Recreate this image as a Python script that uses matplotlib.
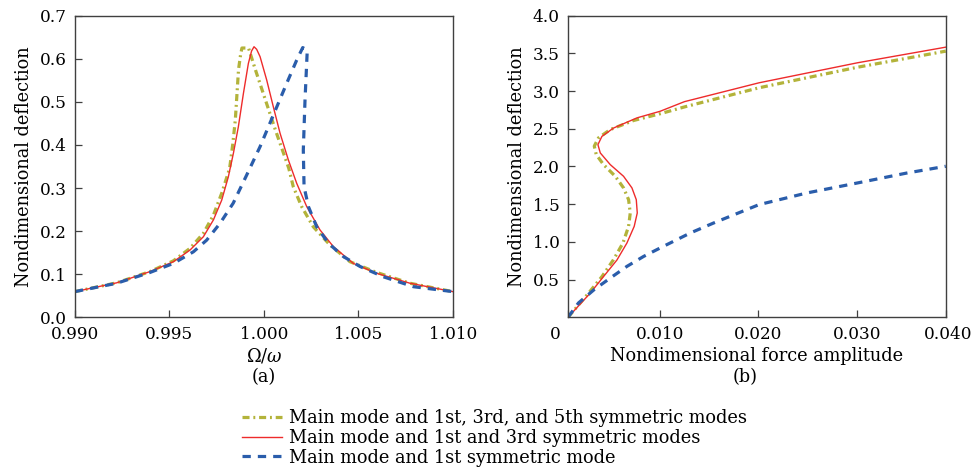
import matplotlib
matplotlib.use("Agg")
import matplotlib.pyplot as plt
import matplotlib.transforms as mtransforms

plt.rcParams['font.family'] = ['DejaVu Serif']
plt.rcParams['mathtext.fontset'] = 'dejavuserif'
plt.rcParams['font.size'] = 12

# (a) frequency response, Omega/omega vs deflection
freq_135 = [0.990, 0.99221, 0.99397, 0.99521, 0.99609, 0.9968, 0.99733, 0.99777,
            0.99819, 0.99835, 0.99849, 0.99866, 0.99877, 0.99884, 0.99919, 0.99955,
            1.00008, 1.00061, 1.00132, 1.00156, 1.002, 1.00262, 1.0035, 1.00456,
            1.00598, 1.00774, 1.010]
defl_135 = [0.0596, 0.080, 0.106, 0.131, 0.160, 0.195, 0.237, 0.288,
            0.346, 0.400, 0.458, 0.575, 0.610, 0.625, 0.625, 0.575,
            0.505, 0.435, 0.346, 0.303, 0.257, 0.210, 0.168, 0.129,
            0.104, 0.079, 0.0596]

freq_13 = [0.990, 0.99221, 0.99397, 0.99521, 0.99609, 0.9968, 0.99733, 0.99777,
           0.99812, 0.99839, 0.99865, 0.99892, 0.99918, 0.99935, 0.99948, 0.99962,
           0.9998, 1.00015, 1.0005, 1.00086, 1.0013, 1.00174, 1.00227, 1.00297,
           1.00368, 1.00474, 1.00598, 1.00774, 1.010]
defl_13 = [0.0596, 0.080, 0.106, 0.129, 0.156, 0.187, 0.226, 0.272,
           0.326, 0.381, 0.442, 0.520, 0.589, 0.618, 0.628, 0.622,
           0.605, 0.551, 0.489, 0.427, 0.365, 0.311, 0.257, 0.203,
           0.164, 0.125, 0.102, 0.079, 0.0596]

freq_1 = [0.990, 0.99221, 0.99397, 0.99521, 0.99627, 0.99697, 0.99768, 0.99838,
          0.99909, 0.9998, 1.0005, 1.00121, 1.00174, 1.00206, 1.0023, 1.00218,
          1.00209, 1.00213, 1.00236, 1.0028, 1.00342, 1.00421, 1.00509, 1.00633,
          1.00792, 1.010]
defl_1 = [0.0596, 0.079, 0.104, 0.125, 0.152, 0.179, 0.218, 0.265,
          0.330, 0.396, 0.469, 0.543, 0.597, 0.626, 0.620, 0.504,
          0.388, 0.303, 0.257, 0.210, 0.172, 0.141, 0.118, 0.094,
          0.071, 0.0596]

# (b) force response, force amplitude vs deflection
force_135 = [0.0007, 0.00278, 0.00414, 0.00531, 0.00627, 0.00684, 0.00701, 0.00684,
             0.00633, 0.00549, 0.0043, 0.00356, 0.00336, 0.00379, 0.00498, 0.00734,
             0.01005, 0.0125, 0.02006, 0.03006, 0.039]
amp_135 = [0.0, 0.32, 0.54, 0.764, 0.985, 1.206, 1.384, 1.56,
           1.716, 1.87, 2.025, 2.158, 2.27, 2.38, 2.49, 2.61,
           2.70, 2.79, 3.044, 3.317, 3.53]

force_13 = [0.0007, 0.00295, 0.0043, 0.00566, 0.00667, 0.00741, 0.00772, 0.00762,
            0.00718, 0.00633, 0.00498, 0.00397, 0.00373, 0.00414, 0.00531, 0.00769,
            0.01005, 0.0125, 0.02006, 0.03006, 0.039]
amp_13 = [0.0, 0.32, 0.54, 0.76, 0.985, 1.206, 1.384, 1.56,
          1.716, 1.87, 2.025, 2.18, 2.29, 2.40, 2.51, 2.645,
          2.733, 2.86, 3.11, 3.376, 3.583]

force_1 = [0.0007, 0.00176, 0.00333, 0.00498, 0.00667, 0.00836, 0.01005, 0.0131,
           0.01545, 0.02006, 0.02492, 0.03006, 0.035, 0.039]
amp_1 = [0.0, 0.19, 0.365, 0.52, 0.675, 0.807, 0.92, 1.118,
         1.25, 1.494, 1.649, 1.782, 1.912, 2.003]

labels = ['Main mode and 1st, 3rd, and 5th symmetric modes',
          'Main mode and 1st and 3rd symmetric modes',
          'Main mode and 1st symmetric mode']

c_olive = '#b3b33a'
c_red = '#ee2b2b'
c_blue = '#2a5dab'
edge = '#404040'
fs_tick = 12.2
fs_text = 12.8

fig = plt.figure(figsize=(9.75, 4.72), dpi=100)
ax1 = fig.add_axes([0.0769, 0.3278, 0.3874, 0.6389])
ax2 = fig.add_axes([0.5826, 0.3278, 0.3874, 0.6389])


def style(ax):
    for s in ax.spines.values():
        s.set_color(edge)
        s.set_linewidth(1.0)
    ax.tick_params(direction='in', length=5, width=0.9, color=edge,
                   top=False, right=False, labelsize=fs_tick, pad=6)


# panel (a)
l1, = ax1.plot(freq_135, defl_135, color=c_olive, lw=2.3,
               dashes=(2.2, 1.2, 0.6, 1.2))
l2, = ax1.plot(freq_13, defl_13, color=c_red, lw=1.0)
l3, = ax1.plot(freq_1, defl_1, color=c_blue, lw=2.3, dashes=(2.6, 2.2))
ax1.set_xlim(0.990, 1.010)
ax1.set_ylim(0, 0.7)
ax1.set_xticks([0.990, 0.995, 1.000, 1.005, 1.010])
ax1.set_xticklabels(['0.990', '0.995', '1.000', '1.005', '1.010'])
ax1.set_yticks([0.0, 0.1, 0.2, 0.3, 0.4, 0.5, 0.6, 0.7])
ax1.set_yticklabels(['0.0', '0.1', '0.2', '0.3', '0.4', '0.5', '0.6', '0.7'])
ax1.set_ylabel('Nondimensional deflection', fontsize=fs_text, labelpad=5)
style(ax1)
ax1.set_xlabel(r'$\Omega/\omega$', fontsize=fs_text, labelpad=3)

# panel (b)
ax2.plot(force_135, amp_135, color=c_olive, lw=2.3, dashes=(2.2, 1.2, 0.6, 1.2))
ax2.plot(force_13, amp_13, color=c_red, lw=1.0)
ax2.plot(force_1, amp_1, color=c_blue, lw=2.3, dashes=(2.6, 2.2))
ax2.set_xlim(0.0007, 0.039)
ax2.set_ylim(0, 4.0)
ax2.set_xticks([0.0007, 0.010, 0.020, 0.030, 0.039])
ax2.set_xticklabels(['0', '0.010', '0.020', '0.030', '0.040'])
ax2.set_yticks([0.5, 1.0, 1.5, 2.0, 2.5, 3.0, 3.5, 4.0])
ax2.set_yticklabels(['0.5', '1.0', '1.5', '2.0', '2.5', '3.0', '3.5', '4.0'])
ax2.set_ylabel('Nondimensional deflection', fontsize=fs_text, labelpad=5)
ax2.set_xlabel('Nondimensional force amplitude', fontsize=fs_text, labelpad=3)
style(ax2)

# nudge the end labels of (b)
xl = ax2.get_xticklabels()
xl[0].set_transform(xl[0].get_transform() +
                    mtransforms.ScaledTranslation(-13 / 100, 0, fig.dpi_scale_trans))
xl[-1].set_transform(xl[-1].get_transform() +
                     mtransforms.ScaledTranslation(2 / 100, 0, fig.dpi_scale_trans))

fig.text(0.2706, 1 - 377 / 472, '(a)', ha='center', va='center', fontsize=fs_text)
fig.text(0.7640, 1 - 377 / 472, '(b)', ha='center', va='center', fontsize=fs_text)

fig.legend([l1, l2, l3], labels, loc='upper left',
           bbox_to_anchor=(0.248, 1 - 409 / 472), frameon=False,
           fontsize=fs_text, handlelength=2.25, handletextpad=0.4,
           labelspacing=0.1, borderpad=0, borderaxespad=0)

fig.savefig('out.png', dpi=100)
